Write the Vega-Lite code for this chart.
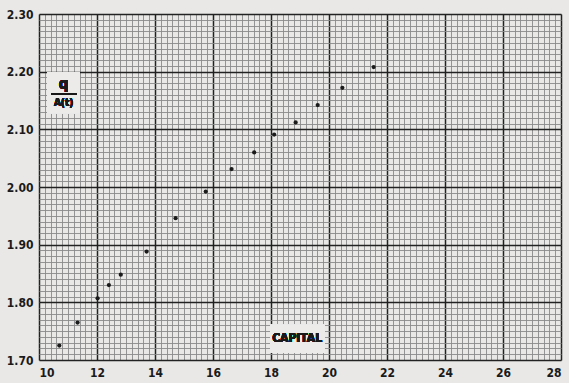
{
  "$schema": "https://vega.github.io/schema/vega-lite/v6.json",
  "width": 522,
  "height": 346,
  "autosize": {"type": "none"},
  "padding": {"left": 39, "top": 14, "right": 8, "bottom": 23},
  "background": "#e9e8e7",
  "config": {
    "view": {"stroke": null},
    "font": "Liberation Sans Narrow, DejaVu Sans Condensed, sans-serif",
    "axis": {"labelFont": "Liberation Sans Narrow, DejaVu Sans Condensed, sans-serif", "labelFontWeight": "bold", "labelColor": "#1a1a1a", "labelFontSize": 12, "title": null, "ticks": false, "domain": false}
  },
  "data": {"values": [
    {"capital": 10.70, "ratio": 1.725},
    {"capital": 11.33, "ratio": 1.765},
    {"capital": 12.02, "ratio": 1.807},
    {"capital": 12.41, "ratio": 1.830},
    {"capital": 12.82, "ratio": 1.848},
    {"capital": 13.71, "ratio": 1.888},
    {"capital": 14.71, "ratio": 1.946},
    {"capital": 15.75, "ratio": 1.992},
    {"capital": 16.64, "ratio": 2.031},
    {"capital": 17.42, "ratio": 2.060},
    {"capital": 18.11, "ratio": 2.091},
    {"capital": 18.85, "ratio": 2.112},
    {"capital": 19.61, "ratio": 2.142},
    {"capital": 20.46, "ratio": 2.172},
    {"capital": 21.54, "ratio": 2.208}
  ]},
  "resolve": {"axis": {"x": "independent", "y": "independent"}},
  "layer": [
    {
      "mark": {"type": "point", "opacity": 0},
      "encoding": {
        "x": {"field": "capital", "type": "quantitative", "scale": {"domain": [10, 28], "nice": false, "zero": false},
          "axis": {"orient": "bottom", "labels": false, "grid": true, "gridColor": "#8a8a8a", "gridWidth": 0.9,
            "values": [10,10.2,10.4,10.6,10.8,11,11.2,11.4,11.6,11.8,12,12.2,12.4,12.6,12.8,13,13.2,13.4,13.6,13.8,14,14.2,14.4,14.6,14.8,15,15.2,15.4,15.6,15.8,16,16.2,16.4,16.6,16.8,17,17.2,17.4,17.6,17.8,18,18.2,18.4,18.6,18.8,19,19.2,19.4,19.6,19.8,20,20.2,20.4,20.6,20.8,21,21.2,21.4,21.6,21.8,22,22.2,22.4,22.6,22.8,23,23.2,23.4,23.6,23.8,24,24.2,24.4,24.6,24.8,25,25.2,25.4,25.6,25.8,26,26.2,26.4,26.6,26.8,27,27.2,27.4,27.6,27.8,28]}},
        "y": {"field": "ratio", "type": "quantitative", "scale": {"domain": [1.7, 2.3], "nice": false, "zero": false},
          "axis": {"orient": "left", "labels": false, "grid": true, "gridColor": "#8a8a8a", "gridWidth": 0.9,
            "values": [1.70,1.71,1.72,1.73,1.74,1.75,1.76,1.77,1.78,1.79,1.80,1.81,1.82,1.83,1.84,1.85,1.86,1.87,1.88,1.89,1.90,1.91,1.92,1.93,1.94,1.95,1.96,1.97,1.98,1.99,2.00,2.01,2.02,2.03,2.04,2.05,2.06,2.07,2.08,2.09,2.10,2.11,2.12,2.13,2.14,2.15,2.16,2.17,2.18,2.19,2.20,2.21,2.22,2.23,2.24,2.25,2.26,2.27,2.28,2.29,2.30]}}
      }
    },
    {
      "mark": {"type": "point", "opacity": 0},
      "encoding": {
        "x": {"field": "capital", "type": "quantitative",
          "axis": {"orient": "bottom", "grid": true, "gridColor": "#222222", "gridWidth": 1.5, "labelPadding": 7, "format": "d",
            "values": [10,12,14,16,18,20,22,24,26,28]}},
        "y": {"field": "ratio", "type": "quantitative",
          "axis": {"orient": "left", "grid": true, "gridColor": "#222222", "gridWidth": 1.5, "labelPadding": 6, "format": ".2f",
            "values": [1.70,1.80,1.90,2.00,2.10,2.20,2.30]}}
      }
    },
    {
      "mark": {"type": "rect", "color": "#ecebea"},
      "encoding": {
        "x": {"datum": 10.28, "type": "quantitative", "axis": null},
        "x2": {"datum": 11.41},
        "y": {"datum": 2.199, "type": "quantitative", "axis": null},
        "y2": {"datum": 2.128}
      }
    },
    {
      "mark": {"type": "rect", "color": "#ecebea"},
      "encoding": {
        "x": {"datum": 17.97, "type": "quantitative", "axis": null},
        "x2": {"datum": 19.86},
        "y": {"datum": 1.761, "type": "quantitative", "axis": null},
        "y2": {"datum": 1.712}
      }
    },
    {
      "mark": {"type": "rule", "color": "#1a1a1a", "strokeWidth": 1.3},
      "encoding": {
        "x": {"datum": 10.42, "type": "quantitative", "axis": null},
        "x2": {"datum": 11.3},
        "y": {"datum": 2.161, "type": "quantitative", "axis": null}
      }
    },
    {
      "mark": {"type": "text", "fontWeight": "bold", "fontSize": 15, "color": "#1a1a1a", "baseline": "middle", "align": "center"},
      "encoding": {
        "x": {"datum": 10.85, "type": "quantitative", "axis": null},
        "y": {"datum": 2.178, "type": "quantitative", "axis": null},
        "text": {"value": "q"}
      }
    },
    {
      "mark": {"type": "text", "fontWeight": "bold", "fontSize": 10, "color": "#1a1a1a", "baseline": "middle", "align": "center"},
      "encoding": {
        "x": {"datum": 10.85, "type": "quantitative", "axis": null},
        "y": {"datum": 2.146, "type": "quantitative", "axis": null},
        "text": {"value": "A(t)"}
      }
    },
    {
      "mark": {"type": "text", "fontWeight": "bold", "fontSize": 12, "color": "#1a1a1a", "baseline": "middle", "align": "center"},
      "encoding": {
        "x": {"datum": 18.9, "type": "quantitative", "axis": null},
        "y": {"datum": 1.739, "type": "quantitative", "axis": null},
        "text": {"value": "CAPITAL"}
      }
    },
    {
      "mark": {"type": "circle", "color": "#1a1a1a", "opacity": 1, "size": 18},
      "encoding": {
        "x": {"field": "capital", "type": "quantitative", "axis": null},
        "y": {"field": "ratio", "type": "quantitative", "axis": null}
      }
    }
  ]
}
